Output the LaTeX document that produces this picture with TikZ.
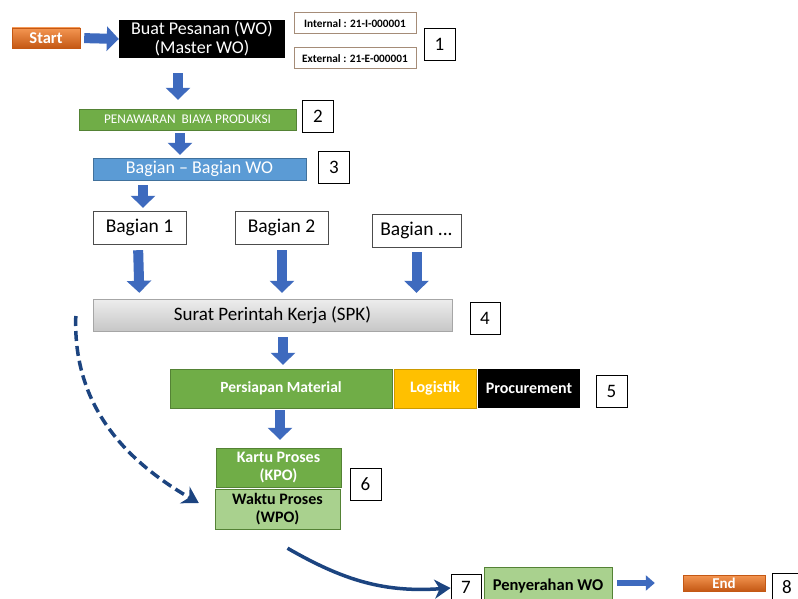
\documentclass[tikz,border=0pt]{standalone}
\usepackage{fontspec}
\setmainfont{Carlito}
\usetikzlibrary{arrows.meta}
\definecolor{orangetop}{RGB}{244,150,82}
\definecolor{orangebot}{RGB}{196,88,20}
\definecolor{prodgreen}{RGB}{112,173,71}
\definecolor{darkgreen}{RGB}{84,130,53}
\definecolor{lightgreen}{RGB}{169,209,142}
\definecolor{wogblue}{RGB}{91,155,213}
\definecolor{wogborder}{RGB}{65,113,156}
\definecolor{logyellow}{RGB}{255,192,0}
\definecolor{codebrown}{RGB}{165,140,120}
\definecolor{arrowblue}{RGB}{62,106,190}
\definecolor{curveblue}{RGB}{28,68,128}
\tikzset{
    fs/.style={font=\fontsize{#1}{#1}\selectfont},
    fsb/.style={font=\fontsize{#1}{#1}\selectfont\bfseries},
    sized/.style 2 args={minimum width=#1pt, minimum height=#2pt, inner sep=0pt, align=center},
    endbox/.style={draw=orangebot, top color=orangetop, bottom color=orangebot,
        text=white, fsb=16.5},
    codebox/.style={draw=codebrown, line width=1pt, fill=white, fsb=11.3},
    numbox/.style={draw=black, line width=0.8pt, fill=white, sized={#1}{32},
        font=\fontsize{19}{19}\selectfont},
    numbox/.default=31,
    fatarrow/.style={draw=arrowblue, line width=10pt,
        -{Triangle[width=24pt,length=12pt]}},
    thinarrow/.style={draw=arrowblue, line width=6pt,
        -{Triangle[width=15pt,length=9pt]}},
    curvearrow/.style={draw=curveblue, line width=3.5pt,
        -{Stealth[width=19pt,length=16pt,inset=5pt]}},
    }

\begin{document}
\begin{tikzpicture}[x=1pt,y=1pt]
	\clip (0,0) rectangle (798,-599);
	\fill[white] (0,0) rectangle (798,-599);

	% row 1
	\node[endbox, sized={68}{20}] (start) at (46,-38) {Start};
	\node[fill=black, text=white, sized={166}{38}, font=\fontsize{18}{19}\selectfont] (wo)
		at (202,-39) {Buat Pesanan (WO)\\(Master WO)};
	\node[codebox, sized={122}{21}] (intl) at (355,-23.5) {Internal : 21-I-000001};
	\node[codebox, sized={122}{21}] (extl) at (355,-58.5) {External : 21-E-000001};
	\node[numbox] (n1) at (439.5,-44) {1};

	% biaya + bagian
	\node[fill=prodgreen, draw=darkgreen, text=white, sized={217}{21}, fs=13.3] (biaya)
		at (187.5,-119.5) {PENAWARAN\ \ BIAYA PRODUKSI};
	\node[numbox] (n2) at (318,-116.5) {2};
	\node[fill=wogblue, draw=wogborder, text=white, sized={213}{22}, fs=18] (bagwo)
		at (199.5,-169) {Bagian -- Bagian WO};
	\node[numbox] (n3) at (334,-167.5) {3};
	\node[draw=black!70, fill=white, sized={93}{33}, fs=19.5] (bag1) at (139.5,-227.5) {Bagian 1};
	\node[draw=black!70, fill=white, sized={93}{33}, fs=19.5] (bag2) at (281.5,-227.5) {Bagian 2};
	\node[draw=black!70, fill=white, sized={89}{33}, fs=19.5] (bagn) at (416.5,-230.5) {Bagian ...};

	% spk
	\node[draw=black!35, top color=black!7, bottom color=black!22, sized={359}{32}, fs=19]
		(spk) at (272.5,-315) {Surat Perintah Kerja (SPK)};
	\node[numbox=30] (n4) at (485,-318.5) {4};

	% material
	\node[fill=prodgreen, draw=darkgreen, text=white, sized={222}{39}, fsb=15.5]
		(material) at (281,-388.5) {Persiapan Material};
	\node[fill=logyellow, draw=logyellow!80!black, text=white, sized={82}{39}, fsb=16]
		(logistik) at (435,-388.5) {Logistik};
	\node[fill=black, text=white, sized={102}{39}, fsb=16]
		(procure) at (529,-388.5) {Procurement};
	\node[numbox] (n5) at (611.5,-391) {5};

	% kpo / wpo
	\node[fill=prodgreen, draw=darkgreen, text=white, sized={125}{39},
		font=\fontsize{16}{18}\selectfont\bfseries] (kpo) at (278.5,-467.5) {Kartu Proses\\(KPO)};
	\node[fill=lightgreen, draw=darkgreen, sized={125}{40},
		font=\fontsize{16}{18}\selectfont\bfseries] (wpo) at (277.5,-509) {Waktu Proses\\(WPO)};
	\node[numbox] (n6) at (365.5,-484.5) {6};

	% penyerahan + end
	\node[numbox=30] (n7) at (466,-590) {\raisebox{6pt}{7}};
	\node[fill=lightgreen, draw=darkgreen, sized={128}{38}, fsb=16.5]
		(serah) at (548,-586) {\raisebox{3pt}{Penyerahan WO}};
	\node[endbox, sized={82}{16}, fsb=15] (end) at (724,-583) {End};
	\node[numbox=30] (n8) at (787,-589) {\raisebox{4pt}{8}};

	% block arrows
	\draw[fatarrow, shorten <=4pt] (start.east) -- (wo.west);
	\draw[fatarrow, shorten <=15pt, shorten >=9pt] ([xshift=-24pt]wo.south)
		-- ([xshift=-9.5pt]biaya.north);
	\draw[fatarrow, shorten <=3pt, shorten >=3pt] ([xshift=-7.5pt]biaya.south)
		-- ([xshift=-19.5pt]bagwo.north);
	\draw[fatarrow, shorten <=5pt, shorten >=3pt] ([xshift=-56.5pt]bagwo.south)
		-- ([xshift=3.5pt]bag1.north);
	\draw[fatarrow, shorten <=6pt, shorten >=6pt] ([xshift=-1.5pt]bag1.south)
		-- (bag1.south |- spk.north);
	\draw[fatarrow, shorten <=6pt, shorten >=6pt] ([xshift=0.5pt]bag2.south)
		-- ([xshift=0.5pt]bag2.south |- spk.north);
	\draw[fatarrow, shorten <=5pt, shorten >=6pt] (bagn.south) -- (bagn.south |- spk.north);
	\draw[fatarrow, shorten <=6pt, shorten >=4pt] ([xshift=10.5pt]spk.south)
		-- ([xshift=2pt]material.north);
	\draw[fatarrow, shorten <=2pt, shorten >=8pt] ([xshift=-1pt]material.south)
		-- ([xshift=1.5pt]kpo.north);
	\draw[thinarrow, shorten <=5pt, shorten >=28pt] ([yshift=3pt]serah.east)
		-- (end.west);

	% curved arrows
	\draw[curvearrow, dash pattern=on 10pt off 5pt] ([xshift=-17pt,yshift=-1pt]spk.west)
		to[out=-92,in=150] ([xshift=-16pt,yshift=6pt]wpo.west);
	\draw[curvearrow] ([xshift=10pt,yshift=-19pt]wpo.south)
		to[out=-30,in=184] ([yshift=2pt]n7.west);
\end{tikzpicture}
\end{document}
